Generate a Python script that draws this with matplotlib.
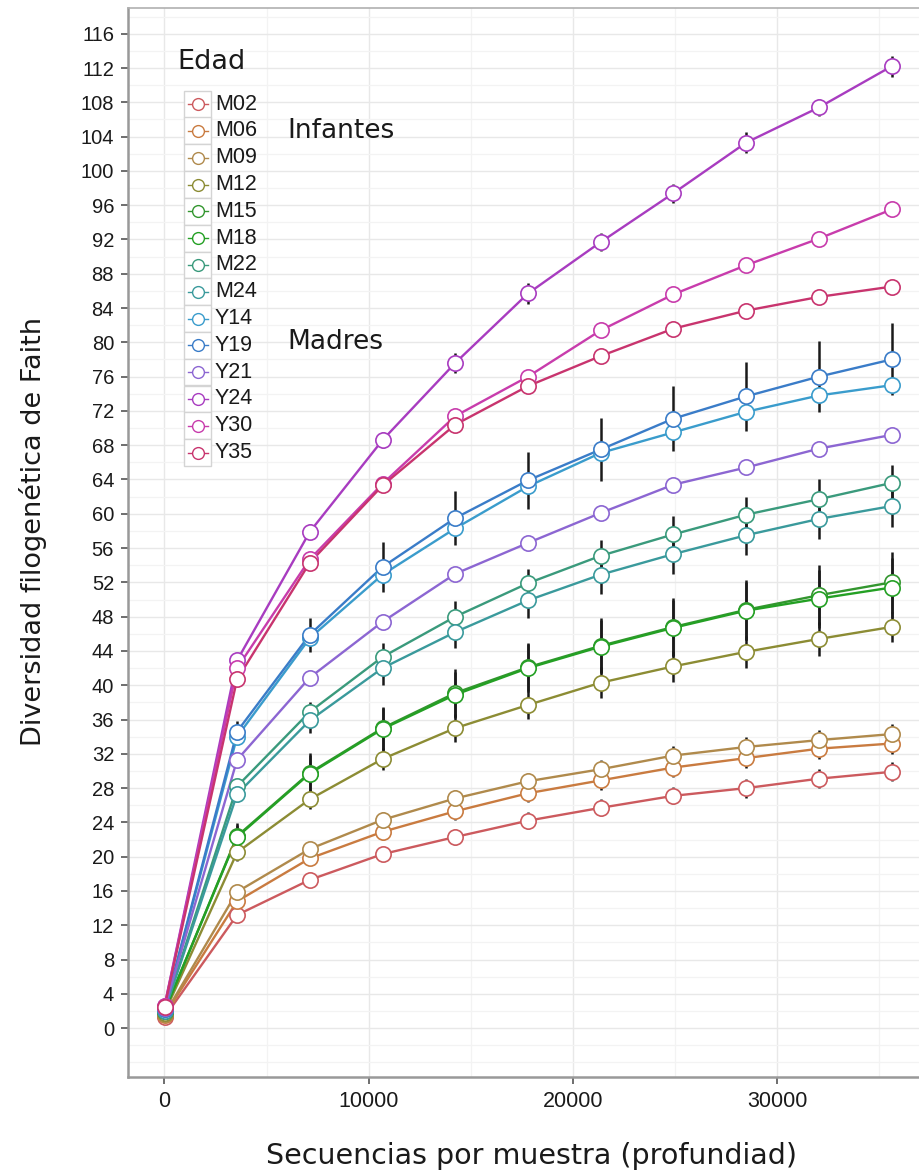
import matplotlib
matplotlib.use("Agg")
import matplotlib.pyplot as plt
from matplotlib.lines import Line2D
from matplotlib.patches import Rectangle
import numpy as np

# profundidad de rarefaccion
profundidad = [10, 3560, 7120, 10680, 14240, 17800, 21360, 24920, 28480, 32040, 35600]

grupos = ["M02", "M06", "M09", "M12", "M15", "M18", "M22", "M24",
          "Y14", "Y19", "Y21", "Y24", "Y30", "Y35"]

colores = ["#cc5a5e", "#c97b40", "#b08a4c", "#8c8c34", "#33962f", "#24a024",
           "#3a9a7c", "#3a9a9c", "#3a9ccc", "#3a7cc8", "#8c66d2", "#a83cc0",
           "#c83cac", "#c8346e"]

# diversidad media por grupo
M02 = [1.3, 13.2, 17.3, 20.3, 22.3, 24.2, 25.7, 27.1, 28.0, 29.1, 29.9]
M06 = [1.5, 14.8, 19.8, 22.9, 25.3, 27.4, 28.9, 30.4, 31.5, 32.6, 33.2]
M09 = [1.6, 15.9, 20.9, 24.3, 26.8, 28.8, 30.2, 31.8, 32.8, 33.6, 34.3]
M12 = [1.8, 20.5, 26.7, 31.4, 35.0, 37.7, 40.3, 42.2, 43.9, 45.4, 46.8]
M15 = [2.0, 22.4, 29.8, 35.0, 39.1, 42.1, 44.6, 46.8, 48.8, 50.5, 52.0]
M18 = [2.0, 22.3, 29.7, 34.9, 38.9, 42.0, 44.5, 46.7, 48.7, 50.1, 51.4]
M22 = [2.1, 28.2, 36.9, 43.3, 48.0, 51.9, 55.1, 57.6, 59.9, 61.7, 63.6]
M24 = [2.0, 27.3, 35.9, 42.0, 46.2, 49.9, 52.9, 55.3, 57.5, 59.4, 60.9]
Y14 = [2.2, 34.0, 45.5, 52.9, 58.3, 63.2, 67.1, 69.5, 71.9, 73.8, 75.0]
Y19 = [2.2, 34.6, 45.9, 53.8, 59.5, 63.9, 67.5, 71.1, 73.7, 76.0, 78.0]
Y21 = [2.3, 31.3, 40.9, 47.4, 53.0, 56.6, 60.1, 63.4, 65.4, 67.6, 69.2]
Y24 = [2.6, 42.9, 57.9, 68.6, 77.6, 85.7, 91.7, 97.4, 103.3, 107.4, 112.2]
Y30 = [2.6, 42.0, 54.7, 63.5, 71.4, 76.0, 81.4, 85.6, 89.0, 92.1, 95.5]
Y35 = [2.5, 40.7, 54.3, 63.3, 70.4, 74.9, 78.4, 81.6, 83.7, 85.3, 86.5]

# desviacion estandar (0 = sin barra)
sd_M02 = [0, 0.6, 0.7, 0.8, 0.9, 1.0, 1.0, 1.0, 1.1, 1.1, 1.1]
sd_M06 = [0, 0.6, 0.8, 0.9, 1.0, 1.0, 1.1, 1.1, 1.2, 1.2, 1.2]
sd_M09 = [0, 0.6, 0.8, 0.9, 1.0, 1.0, 1.1, 1.1, 1.2, 1.2, 1.2]
sd_M12 = [0, 1.0, 1.1, 1.3, 1.6, 1.6, 1.8, 1.8, 1.9, 2.0, 1.8]
sd_M15 = [0, 1.5, 2.3, 2.5, 2.8, 2.8, 3.2, 3.4, 3.5, 3.5, 3.6]
sd_M18 = [0, 1.4, 2.2, 2.4, 2.7, 2.8, 3.1, 3.3, 3.4, 3.4, 3.5]
sd_M22 = [0, 0.8, 1.2, 1.6, 1.8, 1.7, 1.8, 2.1, 2.1, 2.3, 2.1]
sd_M24 = [0, 0.9, 1.5, 2.0, 1.9, 2.1, 2.2, 2.3, 2.3, 2.4, 2.4]
sd_Y14 = [0] * 11
sd_Y19 = [0, 1.2, 2.0, 2.9, 3.1, 3.3, 3.7, 3.8, 4.0, 4.1, 4.2]
sd_Y21 = [0] * 11
sd_Y24 = [0, 0.8, 0.9, 0.9, 1.2, 1.2, 1.1, 1.1, 1.2, 1.0, 1.2]
sd_Y30 = [0] * 11
sd_Y35 = [0] * 11

medias = [M02, M06, M09, M12, M15, M18, M22, M24, Y14, Y19, Y21, Y24, Y30, Y35]
desvios = [sd_M02, sd_M06, sd_M09, sd_M12, sd_M15, sd_M18, sd_M22, sd_M24,
           sd_Y14, sd_Y19, sd_Y21, sd_Y24, sd_Y30, sd_Y35]

W, H = 919, 1171
fig = plt.figure(figsize=(W / 100, H / 100), dpi=100)
ax = fig.add_axes([128 / W, 94 / H, 800 / W, 1069 / H])

for y, sd, c in zip(medias, desvios, colores):
    ax.plot(profundidad, y, color=c, lw=1.7, zorder=3)
    sd = np.array(sd)
    m = sd > 0
    if m.any():
        ax.errorbar(np.array(profundidad)[m], np.array(y)[m], yerr=sd[m],
                    fmt="none", ecolor="#1a1a1a", elinewidth=1.8, capsize=0, zorder=4)
for y, c in zip(medias, colores):
    ax.plot(profundidad, y, "o", ms=11, mfc="white", mec=c, mew=1.2, zorder=5)

ax.set_xlim(-1780, 37380)
ax.set_ylim(-5.7, 119.0)
ax.set_yticks(np.arange(0, 117, 4))
ax.set_xticks([0, 10000, 20000, 30000])
ax.set_yticks(np.arange(-4, 119, 2), minor=True)
ax.set_xticks([5000, 15000, 25000, 35000], minor=True)
ax.grid(which="major", color="#e8e8e8", lw=1.0, zorder=0)
ax.grid(which="minor", color="#f3f3f3", lw=0.9, zorder=0)
ax.set_axisbelow(True)
ax.tick_params(which="major", length=5, width=1.2, color="#555555",
               labelsize=14.5, labelcolor="#1a1a1a", pad=5)
ax.tick_params(axis="x", labelsize=15.5)
ax.tick_params(which="minor", length=0)
for lab in ax.get_xticklabels() + ax.get_yticklabels():
    lab.set_family("Liberation Sans")
for s in ["left", "bottom"]:
    ax.spines[s].set_color("#999999")
    ax.spines[s].set_linewidth(1.8)
ax.spines["top"].set_color("#b0b0b0")
ax.spines["top"].set_linewidth(1.2)
ax.spines["right"].set_visible(False)

ax.text(6000, 104.6, "Infantes", fontsize=19, va="center", ha="left", color="#1a1a1a")
ax.text(6000, 80.0, "Madres", fontsize=19, va="center", ha="left", color="#1a1a1a")

fig.text(532 / W, 1 - 1156 / H, "Secuencias por muestra (profundiad)",
         fontsize=20.5, ha="center", va="center", color="#1a1a1a")
fig.text(33 / W, 1 - 532 / H, "Diversidad filogenética de Faith",
         fontsize=19.5, ha="center", va="center", rotation=90, color="#1a1a1a")

# leyenda
fig.text(177 / W, 1 - 62 / H, "Edad", fontsize=19.5, ha="left", va="center", color="#1a1a1a")
paso = 26.8
for i, (g, c) in enumerate(zip(grupos, colores)):
    top = 90.7 + i * paso
    cy = top + paso / 2
    fig.add_artist(Rectangle((184 / W, 1 - (top + paso) / H), 27 / W, paso / H,
                             transform=fig.transFigure, facecolor="white",
                             edgecolor="#d4d4d4", lw=1.0))
    fig.add_artist(Line2D([188 / W, 208 / W], [1 - cy / H, 1 - cy / H],
                          transform=fig.transFigure, color=c, lw=1.0))
    fig.add_artist(Line2D([198 / W], [1 - cy / H], transform=fig.transFigure,
                          marker="o", ms=8.5, mfc="white", mec=c, mew=1.0))
    fig.text(215 / W, 1 - cy / H, g, fontsize=15.5, family="Liberation Sans",
             ha="left", va="center", color="#1a1a1a")

fig.savefig("out.png", dpi=100)
